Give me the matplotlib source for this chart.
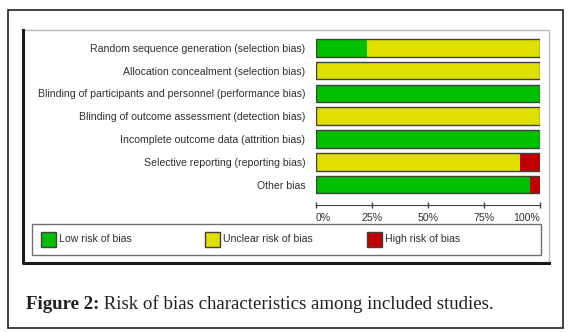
import matplotlib.pyplot as plt
import numpy as np
from matplotlib.patches import Rectangle
from matplotlib.lines import Line2D

W, H = 569, 332

domains = [
    "Random sequence generation (selection bias)",
    "Allocation concealment (selection bias)",
    "Blinding of participants and personnel (performance bias)",
    "Blinding of outcome assessment (detection bias)",
    "Incomplete outcome data (attrition bias)",
    "Selective reporting (reporting bias)",
    "Other bias",
]
low = np.array([22.7, 0, 100, 0, 100, 0, 95.5])
unclear = np.array([77.3, 100, 0, 100, 0, 90.9, 0])
high = np.array([0, 0, 0, 0, 0, 9.1, 4.5])

levels = ["Low risk of bias", "Unclear risk of bias", "High risk of bias"]
colors = ["#00c000", "#e0e000", "#c00000"]
ticks = [0, 25, 50, 75, 100]
tick_labels = ["0%", "25%", "50%", "75%", "100%"]
caption_bold = "Figure 2:"
caption_rest = " Risk of bias characteristics among included studies."

TXT = "#303030"
FS = 7.6
plt.rcParams['font.family'] = ['Liberation Sans', 'DejaVu Sans']


def fx(x):
    return x / W


def fy(y):
    return 1 - y / H


fig = plt.figure(figsize=(W / 100, H / 100), dpi=100)

# frames (pixel layout)
fig.add_artist(Rectangle((fx(8), fy(328)), (563 - 8) / W, (328 - 10) / H,
                         transform=fig.transFigure, fill=False, ec="#222222", lw=1.2))
fig.add_artist(Line2D([fx(23), fx(549), fx(549)], [fy(30), fy(30), fy(263)],
                      transform=fig.transFigure, color="#b8b8b8", lw=1))
fig.add_artist(Line2D([fx(23), fx(23), fx(549)], [fy(30), fy(263), fy(263)],
                      transform=fig.transFigure, color="#1a1a1a", lw=2.2))

# bars
ax = fig.add_axes([fx(315.7), fy(196), (540.3 - 315.7) / W, (196 - 36.4) / H])
y = np.arange(len(domains))
ax.barh(y, low, height=0.77, color=colors[0], lw=0)
ax.barh(y, unclear, left=low, height=0.77, color=colors[1], lw=0)
ax.barh(y, high, left=low + unclear, height=0.77, color=colors[2], lw=0)
ax.barh(y, low + unclear + high, height=0.77, fill=False, edgecolor="#404040", lw=1)

ax.set_xlim(0, 100)
ax.set_ylim(len(domains) - 0.5, -0.5)
for s in ["left", "right", "top"]:
    ax.spines[s].set_visible(False)
ax.spines["bottom"].set_position(("outward", 6.5))
ax.spines["bottom"].set_color("#404040")
ax.set_yticks(y, domains)
ax.tick_params(axis="y", length=0, pad=7.5, labelsize=FS, labelcolor=TXT)
ax.set_xticks(ticks, tick_labels)
ax.tick_params(axis="x", direction="inout", length=4, width=1, color="#404040",
               labelsize=FS, labelcolor=TXT, pad=3.5)
xl = ax.get_xticklabels()
xl[0].set_ha("left")
xl[-1].set_ha("right")

# legend box
fig.add_artist(Rectangle((fx(32), fy(255)), (541 - 32) / W, (255 - 224) / H,
                         transform=fig.transFigure, fc="white", ec="#707070", lw=1))
for x0, name, c in zip([41, 205, 367], levels, colors):
    fig.add_artist(Rectangle((fx(x0), fy(247)), 15 / W, 15 / H,
                             transform=fig.transFigure, fc=c, ec="#404040", lw=1))
    fig.text(fx(x0 + 18), fy(239.5), name, fontsize=FS, color=TXT, va="center")

# caption
t = fig.text(fx(26), fy(309), caption_bold, fontsize=13.6, fontweight="bold",
             family="Liberation Serif", color="#231f20", va="baseline")
ax.annotate(caption_rest, xy=(1, 0), xycoords=t, va="bottom", ha="left",
            fontsize=13.6, family="Liberation Serif", color="#231f20",
            annotation_clip=False)

fig.savefig("out.png", dpi=100)
